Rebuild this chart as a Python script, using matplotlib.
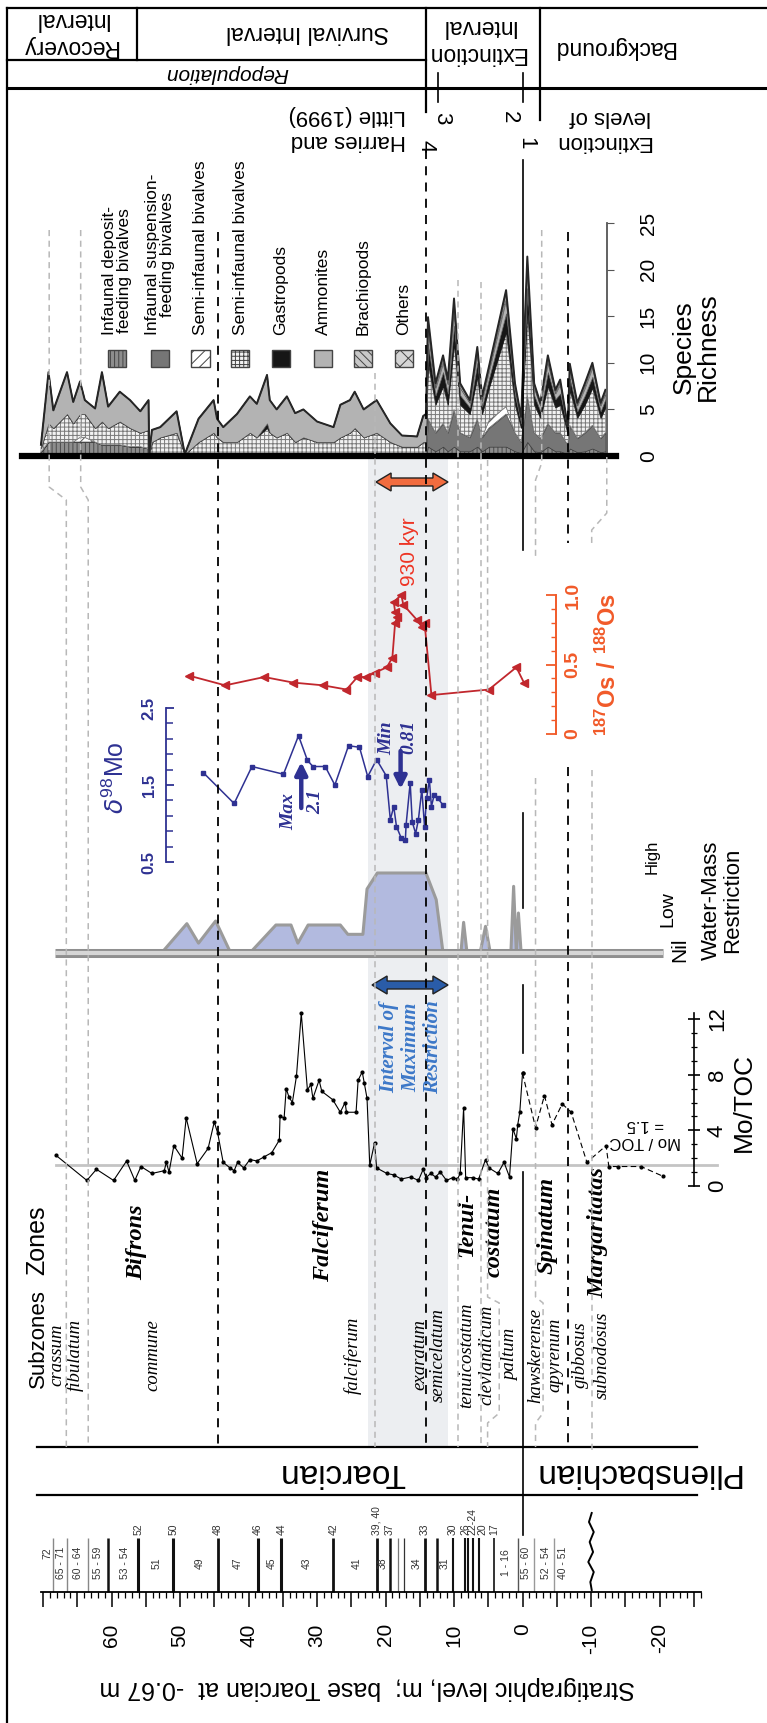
import numpy as np
import matplotlib
matplotlib.use("Agg")
import matplotlib.pyplot as plt
from matplotlib.patches import Rectangle, Polygon
from matplotlib.ticker import FixedLocator, FuncFormatter

plt.rcParams["font.family"] = ["Liberation Sans", "DejaVu Sans"]
plt.rcParams["mathtext.fontset"] = "custom"
plt.rcParams["mathtext.rm"] = "Liberation Sans"
plt.rcParams["mathtext.bf"] = "Liberation Sans:bold"
plt.rcParams["hatch.linewidth"] = 0.7

# ---------------- species richness (stacked by group) ----------------
sr_level = [70.3, 69.2, 68.5, 66.5, 65.6, 64.6, 63.9, 62.4, 61.4, 60.5, 58.8, 57.3, 55.8, 54.6,
            54.5, 54.1, 52.9, 50.5, 49.3, 47.3, 45.1, 44.6, 43.7, 41.7, 39.8, 38.8, 37.3, 36.9,
            35.9, 34.4, 33.2, 32.0, 30.0, 27.6, 26.6, 25.2, 24.5, 23.2, 21.3, 19.3, 17.6, 15.4,
            14.5, 14.1, 13.8, 12.7, 11.6, 10.9, 10.0, 9.1, 7.7, 6.6, 5.9, 4.9, 2.4, 1.1, 0.2,
            -0.7, -1.7, -2.6, -3.7, -4.8, -5.5, -6.6, -6.9, -8.0, -9.1, -10.2, -11.4, -12.1]
sr_deposit = ([0.4, 1.5, 1.5, 1.5, 1.5, 1.5, 1.5, 1.5, 1.2, 1.2, 1.2, 1.0, 1.0, 0.8] + [0.0] * 30 +
              [1, 0.5, 1, 0.5, 1, 0.5, 0.5, 1, 0.5, 1, 1, 0.5, 0.3, 1.5, 0.5, 0.4, 1, 0.5, 0.5,
               0.2, 0.8, 0.4, 0.5, 0.8, 0.4, 0.5])
sr_suspension = ([0.0] * 44 +
                 [3, 2, 2.5, 2, 4, 2, 1.5, 3, 1.5, 2, 3.5, 2, 1.2, 5, 2, 1.5, 2.5, 2, 2, 1, 2.5,
                  1.5, 2, 2.5, 1.5, 2])
sr_semi_stripe = ([0.0] * 5 + [0.5, 0.5] + [0.0] * 37 +
                  [0.0] * 9 + [0.8, 0.8] + [0.0] * 15)
sr_semi_grid = ([0.5, 2.0, 1.5, 3.0, 2.0, 2.5, 2.5, 1.5, 2.5, 1.8, 2.5, 2.0, 1.5, 2.0,
                 0.2, 1.5, 2.0, 2.5, 0.2,
                 1.5, 2.5, 2.0, 1.5, 1.5, 2.5, 2.0, 3.0, 2.5, 2.0, 2.5, 1.5, 2.0, 1.5, 1.5, 2.0,
                 2.5, 3.0, 2.0, 2.5, 1.5, 1.0, 1.0, 1.5, 1.5] +
                [6, 3, 4, 3, 7, 3, 2.5, 4.5, 2.5, 3.5, 8, 3, 1.5, 9, 3, 2.2, 4, 2.7, 3, 1.2, 3.8,
                 2.2, 3, 4, 2.2, 2.7])
sr_gastropods = ([0.0] * 26 + [0.5] + [0.0] * 17 +
                 [2, 1, 1.5, 1.2, 2, 1, 0.7, 1.5, 0.8, 1, 2, 1, 0.5, 2.5, 1, 0.7, 1.5, 0.9, 1.2,
                  0.4, 1.2, 0.7, 1, 1.2, 0.7, 0.9])
sr_ammonites = ([0.3, 5.5, 1.9, 4.5, 2.3, 3.5, 1.5, 2.1, 5.3, 2.3, 3.2, 3.0, 2.3, 3.2,
                 0.1, 1.3, 1.1, 2.3, 0.0,
                 2.5, 3.5, 2.0, 1.6, 3.0, 3.9, 3.6, 5.2, 3.5, 3.0, 3.9, 3.1, 3.0, 2.2, 1.6, 3.5,
                 3.5, 3.9, 3.0, 3.5, 2.0, 1.2, 1.1, 2.8, 3.0] +
                [1.5, 0.8, 1, 1, 1.5, 0.8, 0.5, 1, 0.6, 0.8, 1.5, 0.8, 0.4, 2, 0.8, 0.6, 1, 0.6,
                 1, 0.3, 1, 0.6, 0.8, 1, 0.6, 0.6])
sr_brachiopods = ([0.0] * 44 +
                  [0.7, 0.3, 0.4, 0.3, 0.7, 0.3, 0.2, 0.4, 0.3, 0.3, 0.6, 0.3, 0.2, 0.7, 0.3, 0.2,
                   0.4, 0.2, 0.3, 0.1, 0.3, 0.2, 0.3, 0.3, 0.2, 0.2])
sr_others = ([0.0] * 44 +
             [0.7, 0.2, 0.4, 0.2, 0.7, 0.2, 0.1, 0.3, 0.2, 0.2, 0.4, 0.2, 0.1, 0.7, 0.2, 0.1, 0.4,
              0.2, 0.2, 0.0, 0.3, 0.1, 0.2, 0.2, 0.1, 0.2])
sr_groups = ["Infaunal deposit-\nfeeding bivalves", "Infaunal suspension-\nfeeding bivalves",
             "Semi-infaunal bivalves", "Semi-infaunal bivalves", "Gastropods", "Ammonites",
             "Brachiopods", "Others"]

# ---------------- 187Os/188Os ----------------
os_level = [48.7, 43.4, 37.7, 33.5, 29.1, 25.7, 24.1, 22.8, 21.6, 19.8, 19.0, 18.6, 18.3, 18.6,
            18.8, 17.7, 17.4, 15.4, 14.7, 14.3, 13.3, 4.9, 0.9, -0.2]
os_ratio = [0.42, 0.35, 0.41, 0.37, 0.35, 0.32, 0.41, 0.41, 0.44, 0.48, 0.55, 0.80, 0.84, 0.88,
            0.95, 1.00, 0.93, 0.82, 0.77, 0.80, 0.28, 0.32, 0.48, 0.37]

# ---------------- delta98Mo ----------------
mo_level = [46.6, 42.1, 39.5, 34.9, 32.7, 31.4, 30.6, 28.8, 27.4, 25.4, 23.8, 22.6, 21.3, 19.9,
            19.3, 18.8, 18.4, 17.7, 17.1, 17.0, 16.4, 16.1, 15.6, 15.2, 14.7, 14.3, 14.0, 13.6,
            13.3, 12.9, 12.4, 11.6]
mo_d98 = [1.66, 1.26, 1.74, 1.64, 2.14, 1.82, 1.74, 1.74, 1.50, 2.01, 1.99, 1.61, 1.83, 1.62,
          1.05, 1.22, 0.96, 0.81, 0.79, 0.98, 1.53, 1.02, 0.87, 1.05, 1.44, 0.96, 1.33, 1.57,
          1.22, 1.37, 1.33, 1.24]

# ---------------- water-mass restriction (0 nil, 1 low, 3 high) ----------------
wm_level = [52.7, 49.0, 47.3, 44.8, 42.6, 39.8, 36.0, 33.8, 32.8, 31.3, 26.6, 25.5, 23.3, 22.7,
            21.2, 14.1, 12.6, 11.6, 9.0, 8.6, 8.1, 6.2, 5.4, 4.7, 1.7, 1.3, 0.9, 0.6, 0.2]
wm_value = [0, 1.1, 0.37, 1.2, 0, 0, 1.05, 1.05, 0.37, 1.05, 1.05, 0.7, 0.7, 2.4, 3.0, 3.0, 2.0,
            0, 0, 1.15, 0, 0, 1.0, 0, 0, 2.5, 0, 1.5, 0]

# ---------------- Mo/TOC ----------------
motoc_level = [68.1, 63.6, 62.2, 59.7, 57.8, 56.6, 55.7, 54.1, 52.3, 52.0, 51.6, 50.9, 49.7, 49.1,
               47.5, 45.9, 45.0, 44.5, 43.7, 42.7, 42.1, 41.6, 40.7, 39.8, 38.8, 37.7, 36.6,
               35.5, 35.4, 34.8, 34.5, 34.1, 33.6, 33.0, 32.3, 31.4, 30.9, 30.6, 29.7, 29.3,
               27.7, 26.6, 25.9, 25.7, 24.3, 24.0, 23.4, 23.1, 22.7, 22.3, 21.6, 21.3, 19.8,
               18.8, 17.7, 16.3, 15.2, 14.5, 14.1, 13.4, 12.7, 12.0, 11.1, 10.2, 9.5, 9.1, 8.6,
               8.3, 7.3, 6.4, 5.4, 4.9, 3.6, 2.7, 1.9, 1.4, 0.9, 0.7, 0.4, 0.0]
motoc_value = [2.2, 0.4, 1.2, 0.4, 1.8, 0.4, 1.4, 0.9, 1.1, 1.7, 1.0, 2.9, 2.0, 4.9,
               1.6, 2.7, 4.6, 3.8, 1.7, 1.3, 1.1, 1.7, 1.3, 1.9, 1.8, 2.1, 2.4,
               3.3, 5.0, 4.9, 7.0, 6.4, 6.0, 7.9, 12.4, 6.9, 7.3, 6.3, 7.6, 6.8,
               6.2, 5.3, 6.0, 5.3, 5.3, 7.6, 8.2, 7.4, 6.3, 1.5, 3.1, 1.3, 0.9,
               0.8, 0.5, 0.65, 0.4, 1.2, 0.6, 0.9, 0.65, 1.0, 0.4, 0.6, 0.5, 0.9, 5.6,
               0.6, 0.6, 0.5, 1.9, 1.3, 0.9, 1.7, 0.65, 4.1, 3.4, 4.4, 5.3, 8.1]
motoc_pl_level = [0.0, -1.9, -3.2, -4.3, -5.8, -7.1, -9.4, -12.2, -12.6, -14.0, -17.3, -20.5]
motoc_pl_value = [8.1, 4.2, 6.5, 4.4, 5.9, 5.3, 1.7, 2.9, 1.4, 1.4, 1.4, 0.7]
motoc_threshold = 1.5

# ---------------- biostratigraphy ----------------
zone_names = ["Bifrons", "Falciferum", "Tenui-", "costatum", "Spinatum", "Margaritatas"]
zone_level = [56.3, 29.1, 8.1, 4.2, -3.6, -11.0]
zone_y = [1242, 1225, 1224, 1232, 1225, 1233]
subzone_names = ["crassum", "fibulatum", "commune", "falciferum", "exaratum", "semicelatum",
                 "tenuicostatum", "clevlandicum", "paltum", "hawskerense", "apyrenum",
                 "gibbosus", "subnodosus"]
subzone_level = [68.0, 65.3, 53.9, 24.7, 15.0, 12.3, 8.1, 5.2, 1.8, -1.9, -4.7, -8.4, -11.6]

# bed boundaries and bed numbers
bed_break_level = [68.5, 66.5, 63.4, 60.5, 56.1, 51.0, 44.5, 38.6, 35.2, 27.6, 21.3, 19.4, 18.2,
                   17.3, 14.3, 12.5, 10.2, 8.4, 7.9, 7.3, 6.3, 4.2, 0.6, -1.7, -4.6]
bed_break_w = [1.0, 1.0, 1.0, 1.8, 2.2, 2.2, 2.0, 2.2, 2.2, 2.0, 2.0, 1.8, 0.9, 0.9, 2.0, 1.8,
               1.5, 1.5, 1.5, 1.5, 1.5, 1.2, 1.0, 1.0, 1.0]
bed_break_c = ["#888"] * 3 + ["#111"] * 9 + ["#777", "#333"] + ["#111"] * 8 + ["#555", "#999", "#999"]
bed_top_labels = ["52", "50", "48", "46", "44", "42", "39, 40", "37", "33", "30", "26", "22-24",
                  "20", "17"]
bed_top_level = [56.1, 51.0, 44.5, 38.6, 35.2, 27.6, 21.3, 19.4, 14.3, 10.2, 8.4, 7.3, 5.9, 4.2]
bed_gap_labels = ["72", "65 - 71", "60 - 64", "55 - 59", "53 - 54", "51", "49", "47", "45", "43",
                  "41", "38", "34", "31", "1 - 16", "55 - 60", "52 - 54", "40 - 51"]
bed_gap_level = [69.3, 67.4, 64.9, 62.0, 58.0, 53.4, 47.1, 41.5, 36.6, 31.5, 24.2, 20.4, 15.5,
                 11.3, 2.4, -0.5, -3.4, -5.9]

# extinction interval boundaries (black dashed) and the interval of maximum restriction
black_dash_level = [44.5, 14.1, -6.6]
max_restriction = (22.6, 10.9)

W, H = 767, 1723
M_LEFT, M_RIGHT = 76.28, -35.69      # stratigraphic level at the sheet edges
RED, ORANGE, BLUE = "#c1272d", "#f15a29", "#2e3192"


def at(px):
    """stratigraphic level under a horizontal pixel position"""
    return (522.5 - px) / 6.85


fig = plt.figure(figsize=(W / 100, H / 100), dpi=100)


def put(x, y, s, **kw):
    fig.text(x / W, 1 - y / H, s, **kw)


def strip(top, bot, px0, v0, px1, v1):
    """full-width axes covering rows top..bot, value v0 at row px0 and v1 at row px1"""
    k = (v1 - v0) / (px1 - px0)
    ax = fig.add_axes([0, 1 - bot / H, 1, (bot - top) / H])
    ax.set_xlim(M_LEFT, M_RIGHT)
    ax.set_ylim(v0 + (bot - px0) * k, v0 + (top - px0) * k)
    ax.patch.set_visible(False)
    for s in ax.spines.values():
        s.set_visible(False)
    ax.tick_params(bottom=False, top=False, left=False, right=False,
                   labelbottom=False, labelleft=False)
    return ax


base = fig.add_axes([0, 0, 1, 1])
base.set_xlim(M_LEFT, M_RIGHT)
base.set_ylim(H, 0)
base.axis("off")

# shaded interval of maximum restriction
base.fill_between(list(max_restriction), 456, 1447, color="#eceef1", lw=0)

# ---------- header ----------
hk = dict(color="black", lw=1.6)
base.plot([at(7), M_RIGHT], [8, 8], **hk)
base.plot([at(7), at(425.6)], [60, 60], **hk)
base.plot([at(7), M_RIGHT], [88, 88], color="black", lw=2.2)
base.plot([at(7), at(7)], [8, H], color="black", lw=1.6)
base.plot([at(136.5), at(136.5)], [8, 60], **hk)
base.plot([at(425.6), at(425.6)], [8, 112], **hk)
base.plot([at(540), at(540)], [8, 120], **hk)
base.plot([at(438), at(438)], [73, 102], color="black", lw=1.2)
base.plot([0, 0], [73, 102], color="black", lw=1.2)

hdr = dict(rotation=180, ha="center", va="center", fontsize=16.5)
put(70, 33, "Recovery\nInterval", **hdr)
put(308, 33, "Survival Interval", **hdr)
put(477, 40, "Extinction\nInterval", **hdr)
put(614, 48, "Background", **hdr)
put(227, 74, "Repopulation", rotation=180, ha="center", va="center", fontsize=15, style="italic")
put(406, 128, "Harries and\nLittle (1999)", rotation=180, ha="right", va="center",
    fontsize=16, multialignment="left")
put(651, 129, "Extinction\nlevels of", rotation=180, ha="right", va="center",
    fontsize=16, multialignment="left")
for x, y, s in [(526, 143, "1"), (509, 117, "2"), (442, 118, "3"), (425.6, 146, "4")]:
    put(x, y, s, rotation=-90, ha="center", va="center", fontsize=16)

# ---------- species richness ----------
sr = strip(205, 475, 456, 0, 223, 25)
sr_styles = [("#8d8d8d", "||||", "#4a4a4a"), ("#767676", None, "#3a3a3a"),
             ("white", "///", "#555555"), ("#f2f2f2", "++++", "#7a7a7a"),
             ("#161616", None, "#161616"), ("#b3b3b3", None, "#5a5a5a"),
             ("#c8c8c8", "\\\\\\\\", "#555555"), ("#d5d5d5", "xx", "#666666")]
layers = [sr_deposit, sr_suspension, sr_semi_stripe, sr_semi_grid, sr_gastropods,
          sr_ammonites, sr_brachiopods, sr_others]
lower = np.zeros(len(sr_level))
for vals, (fc, hatch, ec) in zip(layers, sr_styles):
    upper = lower + np.array(vals)
    sr.fill_between(sr_level, lower, upper, facecolor=fc, hatch=hatch, edgecolor=ec, lw=0.5)
    lower = upper
sr.plot(sr_level, lower, color="#262626", lw=1.4)
sr.spines["bottom"].set_visible(True)
sr.spines["bottom"].set_position(("data", 0))
sr.spines["bottom"].set_bounds(-13.6, 73.1)
sr.spines["bottom"].set_linewidth(4.5)
sr.spines["right"].set_visible(True)
sr.spines["right"].set_position(("data", -12.3))
sr.spines["right"].set_bounds(0, 25)
sr.spines["right"].set_color("#555555")
sr.spines["right"].set_linewidth(1.3)
sr.yaxis.set_ticks_position("right")
sr.set_yticks([0, 5, 10, 15, 20, 25])
sr.tick_params(axis="y", right=True, labelright=True, direction="out", length=5,
               color="#555555", labelsize=15, pad=18, labelrotation=90)
for lab in sr.get_yticklabels():
    lab.set_va("center")

legend_px = [117, 160, 200.6, 240, 281, 323, 363, 404]
for px, name, (fc, hatch, ec) in zip(legend_px, sr_groups, sr_styles):
    m = at(px)
    base.add_patch(Rectangle((m - 1.35, 349.5), 2.7, 17, facecolor=fc, hatch=hatch,
                             edgecolor="#444444", lw=1.0))
    base.text(m, 335, name, rotation=90, ha="center", va="bottom", fontsize=12.5,
              linespacing=1.0)
put(696, 347, "Species\nRichness", rotation=90, ha="center", va="center", fontsize=19,
    linespacing=1.0)


def double_arrow(m0, m1, y, face):
    body, head, hl = 8, 18, 2.2
    pts = [(m0, y), (m0 - hl, y - head / 2), (m0 - hl, y - body / 2), (m1 + hl, y - body / 2),
           (m1 + hl, y - head / 2), (m1, y), (m1 + hl, y + head / 2), (m1 + hl, y + body / 2),
           (m0 - hl, y + body / 2), (m0 - hl, y + head / 2)]
    base.add_patch(Polygon(pts, closed=True, facecolor=face, edgecolor="#222222", lw=1.0,
                           zorder=5))


double_arrow(at(376), at(448), 482, "#f26c3f")
put(410, 552, "930 kyr", rotation=90, ha="center", va="center", fontsize=15, color="#ee3424")

# ---------- 187Os/188Os ----------
osx = strip(570, 750, 734, 0, 595, 1.0)
osx.plot(os_level, os_ratio, color=RED, lw=1.3, marker="<", ms=5.5)
osx.spines["right"].set_visible(True)
osx.spines["right"].set_position(("data", -4.9))
osx.spines["right"].set_bounds(0, 1.0)
osx.spines["right"].set_color(ORANGE)
osx.spines["right"].set_linewidth(1.4)
osx.yaxis.set_ticks_position("right")
osx.yaxis.set_major_locator(FixedLocator([0, 0.5, 1.0]))
osx.yaxis.set_minor_locator(FixedLocator(np.arange(0, 1.01, 0.1)))
osx.yaxis.set_major_formatter(FuncFormatter(lambda v, p: {0: "0", 0.5: "0.5", 1.0: "1.0"}.get(round(v, 1), "")))
osx.tick_params(axis="y", which="both", right=True, labelright=True, direction="in",
                color=ORANGE, labelcolor=ORANGE, labelsize=14, pad=6, labelrotation=90)
osx.tick_params(axis="y", which="major", length=7, width=1.3)
osx.tick_params(axis="y", which="minor", length=3.5, width=1.0)
for lab in osx.get_yticklabels():
    lab.set_fontweight("bold")
    lab.set_va("center")
put(608, 665, r"$\mathbf{^{187}Os\ /\ ^{188}Os}$", rotation=90, ha="center", va="center",
    fontsize=17, color=ORANGE)

# ---------- delta98Mo ----------
mo = strip(690, 885, 862, 0.5, 708, 2.5)
mo.plot(mo_level, mo_d98, color=BLUE, lw=1.1, marker="s", ms=2.2)
mo.spines["left"].set_visible(True)
mo.spines["left"].set_position(("data", 52.0))
mo.spines["left"].set_bounds(0.5, 2.5)
mo.spines["left"].set_color(BLUE)
mo.spines["left"].set_linewidth(1.3)
mo.yaxis.set_major_locator(FixedLocator([0.5, 1.5, 2.5]))
mo.yaxis.set_minor_locator(FixedLocator(np.arange(0.5, 2.51, 0.2)))
mo.tick_params(axis="y", which="both", left=True, labelleft=True, direction="in",
               color=BLUE, labelcolor=BLUE, labelsize=12, pad=7, labelrotation=90)
mo.tick_params(axis="y", which="major", length=6, width=1.3)
mo.tick_params(axis="y", which="minor", length=5, width=1.1)
for lab in mo.get_yticklabels():
    lab.set_fontweight("bold")
    lab.set_va("center")
put(116, 778, r"$\delta^{98}$Mo", rotation=90, ha="center", va="center", fontsize=18, color=BLUE)

ann = dict(arrowstyle="-|>", lw=3.2, color=BLUE, mutation_scale=18, shrinkA=0, shrinkB=0)
base.annotate("", xy=(32.3, 762), xytext=(32.3, 808), arrowprops=ann)
base.annotate("", xy=(17.8, 789), xytext=(17.8, 751), arrowprops=ann)
serif_it = dict(family="Liberation Serif", style="italic", weight="bold", color=BLUE,
                rotation=90, ha="center", va="center", fontsize=14)
put(288.6, 812, "Max", **serif_it)
put(315.6, 802, "2.1", **serif_it)
put(386.5, 738, "Min", **serif_it)
put(408.5, 737, "0.81", **serif_it)

# ---------- water-mass restriction ----------
wm = strip(835, 972, 953, 0, 873, 3)
wm.fill_between(wm_level, 0, wm_value, facecolor="#b2badf", edgecolor="none")
wm.plot(wm_level, wm_value, color="#9b9b9b", lw=2.2)
wm.plot([68.3, -20.5], [0, 0], color="#8f8f8f", lw=6.5, solid_capstyle="butt")
wm.plot([68.3, -20.5], [0, 0], color="#d6d6d6", lw=3, solid_capstyle="butt")
put(680, 950, "Nil", rotation=90, ha="center", va="center", fontsize=15)
put(668, 909, "Low", rotation=90, ha="center", va="center", fontsize=14)
put(652, 857, "High", rotation=90, ha="center", va="center", fontsize=12)
put(722, 900, "Water-Mass\nRestriction", rotation=90, ha="center", va="center", fontsize=16,
    linespacing=1.0)

# ---------- Mo/TOC ----------
mt = strip(1000, 1198, 1186, 0, 1019, 12)
mt.plot([68.1, -28.4], [motoc_threshold, motoc_threshold], color="#c4c4c4", lw=2)
mt.plot(motoc_level, motoc_value, color="black", lw=0.8, marker="o", ms=2)
mt.plot(motoc_pl_level, motoc_pl_value, color="black", lw=0.8, marker="o", ms=2,
        dashes=(5, 3))
mt.spines["right"].set_visible(True)
mt.spines["right"].set_position(("data", -25.0))
mt.spines["right"].set_bounds(0, 12.4)
mt.spines["right"].set_linewidth(1.2)
mt.yaxis.set_ticks_position("right")
mt.yaxis.set_major_locator(FixedLocator([0, 4, 8, 12]))
mt.yaxis.set_minor_locator(FixedLocator(range(0, 13)))
mt.tick_params(axis="y", which="both", right=True, labelright=True, direction="inout",
               labelsize=16, pad=5, labelrotation=90)
mt.tick_params(axis="y", which="major", length=9, width=1.2)
mt.tick_params(axis="y", which="minor", length=5, width=0.9)
for lab in mt.get_yticklabels():
    lab.set_va("center")
put(744, 1103, "Mo/TOC", rotation=90, ha="center", va="center", fontsize=19)
put(645, 1133, "Mo / TOC\n= 1.5", rotation=180, ha="center", va="center", fontsize=12)

double_arrow(at(372), at(448), 985, "#2a5ca8")
put(411, 1047, "Interval of\nMaximum\nRestriction", rotation=90, ha="center", va="center",
    fontsize=15, color="#3c78c8", family="Liberation Serif", style="italic",
    weight="bold", linespacing=1.15)

# ---------- zones and subzones ----------
put(37, 1240, "Zones", rotation=90, ha="center", va="center", fontsize=18)
put(38, 1339, "Subzones", rotation=90, ha="center", va="center", fontsize=16)
for name, m, y in zip(zone_names, zone_level, zone_y):
    base.text(m, y, name, rotation=90, ha="center", va="center", fontsize=17.5,
              family="Liberation Serif", style="italic", weight="bold")
for name, m in zip(subzone_names, subzone_level):
    base.text(m, 1355, name, rotation=90, ha="center", va="center", fontsize=13.5,
              family="Liberation Serif", style="italic")

# ---------- stages ----------
base.plot([70.9, -25.5], [1447, 1447], color="black", lw=1.6)
base.plot([70.9, -25.5], [1495, 1495], color="black", lw=1.6)
put(342.5, 1472, "Toarcian", rotation=180, ha="center", va="center", fontsize=24)
put(636, 1472, "Pliensbachian", rotation=180, ha="center", va="center", fontsize=24)

# ---------- beds ----------
base.vlines(bed_break_level, 1538, 1592, colors=bed_break_c, linewidths=bed_break_w)
for lab, m in zip(bed_top_labels, bed_top_level):
    base.text(m, 1535, lab, rotation=90, ha="center", va="bottom", fontsize=7.5, color="#333")
for lab, m in zip(bed_gap_labels, bed_gap_level):
    base.text(m, 1553 if lab == "72" else 1563, lab, rotation=90, ha="center", va="center",
              fontsize=7.5, color="#333")
wave_m = [-10.1, -9.7, -10.4, -9.8, -10.3, -9.6, -10.4, -9.9, -10.1]
wave_y = [1513, 1522, 1532, 1542, 1552, 1562, 1572, 1582, 1590]
base.plot(wave_m, wave_y, color="black", lw=1.4)

# ---------- stratigraphic axis ----------
st = fig.add_axes([0, 1 - 1592 / H, 1, 0.5 / H])
st.set_xlim(M_LEFT, M_RIGHT)
st.patch.set_visible(False)
for side in ["top", "left", "right"]:
    st.spines[side].set_visible(False)
st.spines["bottom"].set_bounds(70.3, -26.0)
st.spines["bottom"].set_linewidth(1.3)
st.set_yticks([])
st.xaxis.set_major_locator(FixedLocator(np.arange(-25, 71, 5)))
st.xaxis.set_minor_locator(FixedLocator(np.arange(-26, 71, 1)))
st.xaxis.set_major_formatter(FuncFormatter(
    lambda v, p: f"{int(round(v))}" if round(v) % 10 == 0 and -20 <= v <= 60 else ""))
st.tick_params(axis="x", which="major", length=10.5, width=1.1, direction="out",
               labelsize=15, pad=12, labelrotation=90)
st.tick_params(axis="x", which="minor", length=4.5, width=0.9, direction="out")
put(367, 1688, "Stratigraphic level, m;  base Toarcian at  -0.67 m", rotation=180,
    ha="center", va="center", fontsize=18)

# ---------- correlation lines drawn over the panels ----------
ref = fig.add_axes([0, 0, 1, 1])
ref.set_xlim(M_LEFT, M_RIGHT)
ref.set_ylim(H, 0)
ref.axis("off")
gray_lines = [
    ([69.1, 69.1, 66.6, 66.6], [230, 487, 500, 1447]),
    ([64.5, 64.5, 63.4, 63.4], [230, 487, 500, 1447]),
    ([21.6, 21.6], [373, 1447]),
    ([9.35, 9.35], [280, 1447]),
    ([6.06, 6.06], [282, 1447]),
    ([5.1, 5.1, 3.4, 3.4, 5.1, 5.1], [460, 1297, 1303, 1413, 1423, 1447]),
    ([-2.8, -2.8, -1.9, -1.9], [230, 463, 480, 558]),
    ([-1.9, -1.9, -3.0, -3.0, -1.9, -1.9], [778, 1297, 1303, 1413, 1423, 1447]),
    ([-12.3, -12.3, -10.1, -10.1], [457, 513, 530, 545]),
    ([-10.1, -10.1], [770, 1450]),
]
for xs, ys in gray_lines:
    ref.plot(xs, ys, color="#b8b8b8", lw=1.1, dashes=(4, 3))
ref.plot([black_dash_level[0]] * 2, [232, 1447], color="black", lw=1.3, dashes=(5, 4))
ref.plot([black_dash_level[1]] * 2, [150, 1447], color="black", lw=1.3, dashes=(5, 4))
ref.plot([black_dash_level[2]] * 2, [232, 543], color="black", lw=1.3, dashes=(5, 4))
ref.plot([black_dash_level[2]] * 2, [767, 1447], color="black", lw=1.3, dashes=(5, 4))
for y0, y1 in [(160, 550), (813, 908), (985, 1053), (1172, 1535)]:
    ref.plot([0, 0], [y0, y1], color="black", lw=1.2)

fig.savefig("out.png", dpi=100)
